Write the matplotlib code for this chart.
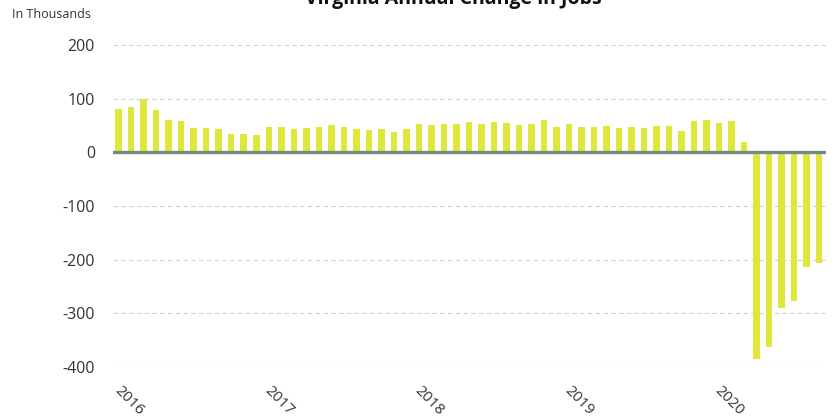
import matplotlib
matplotlib.use("Agg")
import matplotlib.pyplot as plt
import matplotlib.transforms as mtransforms
import numpy as np

plt.rcParams['font.family'] = ['Open Sans', 'DejaVu Sans']

# Monthly annual change in jobs (thousands), Jan 2016 - Sep 2020
values = [80, 85, 99, 78, 60, 58, 45, 45, 43, 34, 34, 33,
          48, 47, 44, 46, 48, 51, 48, 43, 41, 44, 38, 44,
          53, 51, 53, 53, 57, 53, 57, 55, 51, 53, 60, 47,
          53, 47, 47, 49, 46, 47, 45, 49, 49, 40, 58, 61,
          55, 58, 19, -386, -362, -290, -277, -214, -206]
year_labels = ['2016', '2017', '2018', '2019', '2020']
year_start_index = [0, 12, 24, 36, 48]
y_ticks = [200, 100, 0, -100, -200, -300, -400]

fig = plt.figure(figsize=(8.34, 4.18), dpi=100)
ax = fig.add_axes([113/834, 1 - 367/418, (826-113)/834, (367-45)/418])

x = np.arange(len(values))
ax.bar(x, values, width=0.52, color='#dfe83a', zorder=3)

ax.set_ylim(-400, 200)
ax.set_xlim(-0.455, len(values) - 1 + 0.56)
ax.set_yticks(y_ticks)
ax.set_yticklabels([str(v) for v in y_ticks])
ax.yaxis.grid(True, linestyle=(0, (4, 3)), color='#d0d0d0', linewidth=0.8, zorder=0)
ax.axhline(0, color='#768a84', linewidth=2.4, zorder=4)

ax.set_xticks(year_start_index)
ax.set_xticklabels(year_labels, rotation=-45, ha='left', va='top', rotation_mode='anchor')
ax.tick_params(axis='x', length=0, pad=12, labelsize=11, labelcolor='#333333')
ax.tick_params(axis='y', length=0, pad=13, labelsize=11.5, labelcolor='#333333')
offset = mtransforms.ScaledTranslation(3/100, 0, fig.dpi_scale_trans)
for lbl in ax.get_xticklabels():
    lbl.set_transform(lbl.get_transform() + offset)

for s in ax.spines.values():
    s.set_visible(False)

fig.text(12/834, 1 - 15/418, 'In Thousands', fontsize=9, color='#333333', ha='left', va='center')
fig.text(453/834, 1 - 4/418, 'Virginia Annual Change in Jobs', fontsize=14, fontweight='bold',
         color='#111111', ha='center', va='baseline')

fig.savefig('out.png', dpi=100)
